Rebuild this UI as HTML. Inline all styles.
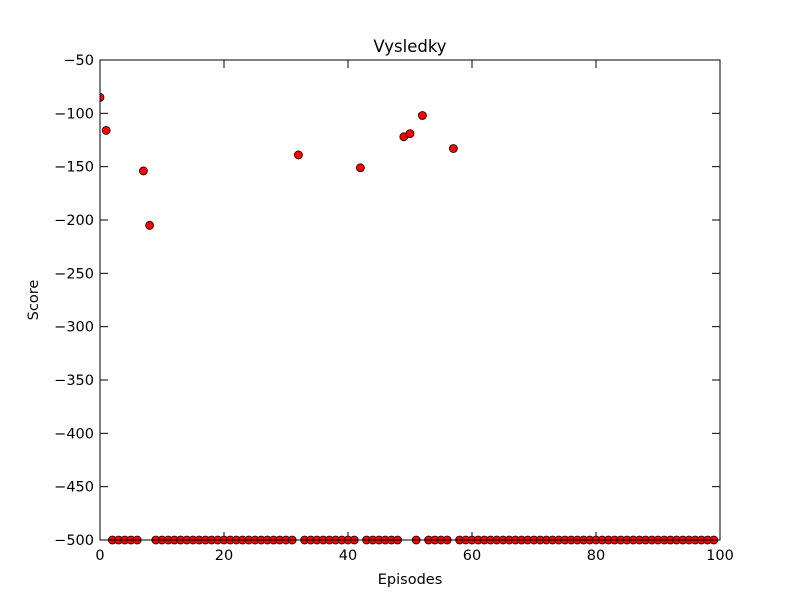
<!DOCTYPE html>
<html><head><meta charset="utf-8"><style>
body{margin:0;background:#fff;}
svg text{font-family:"DejaVu Sans","Liberation Sans",sans-serif;}
</style></head><body>
<svg id="chart" width="800" height="600" xmlns="http://www.w3.org/2000/svg">
<rect x="0" y="0" width="800" height="600" fill="#ffffff"/>
<g id="ticks"></g>
<g id="points"></g>
<rect x="100" y="60" width="620" height="480" fill="none" stroke="#000" stroke-width="1"/>
<text x="410" y="52" text-anchor="middle" font-size="16.5">Vysledky</text>
<text x="410" y="584" text-anchor="middle" font-size="14.5">Episodes</text>
<text x="38" y="300" text-anchor="middle" font-size="14.5" transform="rotate(-90 38 300)">Score</text>
</svg>
<script>
const episodes = Array.from({length:100},(_,i)=>i);
const scores = [-85,-116,-500,-500,-500,-500,-500,-154,-205,-500,
-500,-500,-500,-500,-500,-500,-500,-500,-500,-500,
-500,-500,-500,-500,-500,-500,-500,-500,-500,-500,
-500,-500,-139,-500,-500,-500,-500,-500,-500,-500,
-500,-500,-151,-500,-500,-500,-500,-500,-500,-122,
-119,-500,-102,-500,-500,-500,-500,-133,-500,-500,
-500,-500,-500,-500,-500,-500,-500,-500,-500,-500,
-500,-500,-500,-500,-500,-500,-500,-500,-500,-500,
-500,-500,-500,-500,-500,-500,-500,-500,-500,-500,
-500,-500,-500,-500,-500,-500,-500,-500,-500,-500];
const xTicks = [0,20,40,60,80,100];
const yTicks = [-50,-100,-150,-200,-250,-300,-350,-400,-450,-500];
const X0=100,X1=720,Y0=60,Y1=540;
const xs=v=>X0+(v-0)/(100-0)*(X1-X0);
const ys=v=>Y1-(v-(-500))/(-50-(-500))*(Y1-Y0);
const NS="http://www.w3.org/2000/svg";
const tg=document.getElementById('ticks'), pg=document.getElementById('points');
function mk(tag,attrs,parent){const e=document.createElementNS(NS,tag);for(const k in attrs)e.setAttribute(k,attrs[k]);parent.appendChild(e);return e;}
xTicks.forEach(v=>{const x=xs(v);
 mk('line',{x1:x,y1:Y1,x2:x,y2:Y1-8,stroke:'#000'},tg);
 mk('line',{x1:x,y1:Y0,x2:x,y2:Y0+8,stroke:'#000'},tg);
 const t=mk('text',{x:x,y:Y1+20,'text-anchor':'middle','font-size':14.5},tg);t.textContent=v;
 
 
});
yTicks.forEach(v=>{const y=ys(v);
 mk('line',{x1:X0,y1:y,x2:X0+8,y2:y,stroke:'#000'},tg);
 mk('line',{x1:X1,y1:y,x2:X1-8,y2:y,stroke:'#000'},tg);
 const t=mk('text',{x:X0-6,y:y+5,'text-anchor':'end','font-size':14.5},tg);t.textContent=String(v).replace('-','\u2212');
 
 
});
const clip=mk('clipPath',{id:'pc'},document.getElementById('chart'));
mk('rect',{x:X0,y:Y0-6,width:X1-X0,height:Y1-Y0+12},clip);
pg.setAttribute('clip-path','url(#pc)');
episodes.forEach((e,i)=>{const c=mk('circle',{cx:xs(e),cy:ys(scores[i]),r:4,fill:'#ff0000',stroke:'#000','stroke-width':0.8},pg);
 
 
});
</script>
</body></html>
